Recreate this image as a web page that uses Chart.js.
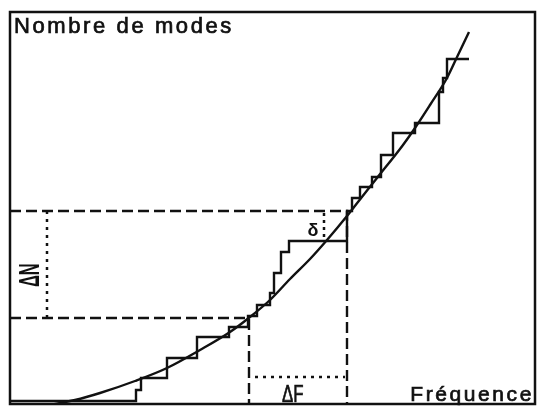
<!DOCTYPE html>
<html>
<head>
<meta charset="utf-8">
<script src="https://cdn.jsdelivr.net/npm/chart.js@4"></script>
<style>
  html, body { margin: 0; padding: 0; background: #fff; }
  #wrap { width: 537px; height: 409px; }
</style>
</head>
<body>
<div id="wrap"><canvas id="modesChart"></canvas></div>
<script>
const INK = '#111';

// Smooth (average) number of modes against frequency
const curveF = [4.6, 13, 18, 25, 31.4, 38, 44, 48, 52, 56, 60, 63.4, 67.4, 69.6, 73.4, 78.6, 81, 84, 87.4, 89.6, 91.8];
const curveN = [-1, 1, 2.75, 5.75, 9, 13.5, 18, 21.75, 26, 31.25, 36.25, 41, 47, 50.5, 56.5, 64.75, 69, 74.75, 81.5, 87.25, 93];

// Real mode count: frequency where each step rises, and the count after it
const stepF = [0, 25.2, 26.2, 31.4, 37.4, 43.8, 47.6, 49.4, 52, 52.8, 54.2, 55.8, 67.4, 68.4, 70, 72.4, 74.2, 76.6, 81, 85.8, 86.6, 87.4, 91.8];
const stepN = [0.75, 3.5, 6.5, 11.5, 16.75, 19.25, 22, 24.75, 27.75, 32.75, 38, 40.75, 48.25, 51.5, 54.25, 56.75, 62.25, 67.75, 70.25, 78, 81.5, 86.25, 86.25];

// ΔF band (frequencies) and ΔN band (mode counts)
const bandF = [47.8, 67.4];
const bandN = [21.5, 48.25];
const deltaNAt = 7.4;            // where the ΔN dotted line stands
const deltaFAt = 6.75;           // height of the ΔF dotted line
const deltaFSpan = [49, 67];
const smallDeltaF = 62.8;        // the little δ gap
const smallDeltaN = [41, 47.75];

const pts = (xs, ys) => xs.map((v, i) => ({ x: v, y: ys[i] }));

function guide(data, dash, width) {
    return {
        data,
        borderColor: INK,
        borderWidth: width || 2,
        borderDash: dash,
        pointRadius: 0,
        tension: 0,
        fill: false,
    };
}

const datasets = [
    {
        label: 'moyenne',
        data: pts(curveF, curveN),
        borderColor: INK,
        borderWidth: 2.4,
        pointRadius: 0,
        cubicInterpolationMode: 'monotone',
        fill: false,
    },
    {
        label: 'modes',
        data: pts(stepF, stepN),
        borderColor: INK,
        borderWidth: 2.4,
        pointRadius: 0,
        stepped: 'before',
        fill: false,
    },
    guide([{ x: 0, y: bandN[1] }, { x: bandF[1], y: bandN[1] }, { x: bandF[1], y: 0 }], [11, 5], 2.4),
    guide([{ x: 0, y: bandN[0] }, { x: bandF[0], y: bandN[0] }, { x: bandF[0], y: 0 }], [11, 5], 2.4),
    guide([{ x: deltaNAt, y: bandN[1] }, { x: deltaNAt, y: bandN[0] }], [3, 5], 2.5),
    guide([{ x: deltaFSpan[0], y: deltaFAt }, { x: deltaFSpan[1], y: deltaFAt }], [3, 5], 2.5),
    guide([{ x: smallDeltaF, y: smallDeltaN[1] }, { x: smallDeltaF, y: smallDeltaN[0] }], [3, 4], 2.5),
];

function inkText(ctx, text, px, py) {
    ctx.fillText(text, px, py);
    ctx.strokeText(text, px, py);
}

// frame, white page and the hand lettering
const lettering = {
    id: 'lettering',
    beforeDraw(chart) {
        const { ctx, width, height } = chart;
        ctx.save();
        ctx.fillStyle = '#fff';
        ctx.fillRect(0, 0, width, height);
        ctx.restore();
    },
    afterDraw(chart) {
        const { ctx, chartArea: a, scales: { x, y } } = chart;
        ctx.save();
        ctx.strokeStyle = INK;
        ctx.lineWidth = 2.5;
        ctx.strokeRect(a.left, a.top, a.right - a.left, a.bottom - a.top);

        ctx.fillStyle = INK;
        ctx.lineWidth = 0.7;
        ctx.font = '22px "Liberation Sans", Arial, sans-serif';
        ctx.letterSpacing = '2.6px';
        ctx.textBaseline = 'alphabetic';
        ctx.textAlign = 'left';
        inkText(ctx, 'Nombre de modes', a.left + 4, a.top + 21);
        ctx.font = '21px "Liberation Sans", Arial, sans-serif';
        ctx.textAlign = 'right';
        inkText(ctx, 'Fréquence', a.right - 1, a.bottom - 3);
        ctx.letterSpacing = '0px';

        // ΔF under the band
        ctx.save();
        ctx.translate(x.getPixelForValue(54.4), y.getPixelForValue(0.45));
        ctx.scale(0.7, 1);
        ctx.font = '24px "Liberation Sans", Arial, sans-serif';
        ctx.textAlign = 'left';
        inkText(ctx, 'ΔF', 0, 0);
        ctx.restore();

        // ΔN, turned up the left side
        ctx.save();
        ctx.translate(x.getPixelForValue(4.1), y.getPixelForValue(32.2));
        ctx.rotate(-Math.PI / 2);
        ctx.scale(0.55, 1);
        ctx.font = 'bold 30px "Liberation Sans", Arial, sans-serif';
        ctx.textAlign = 'center';
        ctx.textBaseline = 'middle';
        ctx.fillText('ΔN', 0, 0);
        ctx.restore();

        ctx.font = 'bold 18px "Liberation Sans", Arial, sans-serif';
        ctx.textAlign = 'center';
        ctx.fillText('δ', x.getPixelForValue(60.6), y.getPixelForValue(42));
        ctx.restore();
    }
};

new Chart(document.getElementById('modesChart').getContext('2d'), {
    type: 'line',
    data: { datasets },
    options: {
        responsive: true,
        maintainAspectRatio: false,
        animation: false,
        layout: { padding: { left: 10, right: 2, top: 12, bottom: 5 } },
        plugins: { legend: { display: false }, tooltip: { enabled: false } },
        scales: {
            x: { type: 'linear', min: 0, max: 105, display: false },
            y: { type: 'linear', min: 0, max: 98, display: false },
        },
    },
    plugins: [lettering],
});
</script>
</body>
</html>
